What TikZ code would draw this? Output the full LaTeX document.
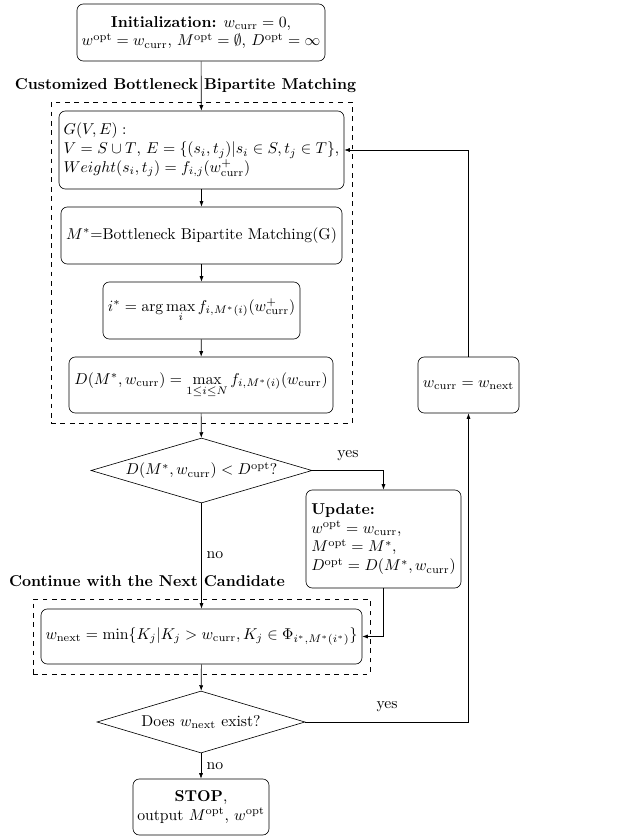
\documentclass[tikz,border=0pt]{standalone}
\usepackage{amsmath,amssymb}
\usetikzlibrary{shapes.geometric,arrows.meta}
\begin{document}
\begin{tikzpicture}[x=0.637pt,y=-0.637pt,
  sz/.style 2 args={minimum width=#1*0.637pt,minimum height=#2*0.637pt},
  box/.style={draw,rounded corners=4pt,inner sep=1.5pt,align=center},
  lbox/.style={draw,rounded corners=4pt,inner sep=1.5pt,align=left},
  dia/.style={draw,diamond,inner sep=0pt,align=center},
  frame/.style={draw,dashed,inner sep=0pt},
  ttl/.style={font=\bfseries,inner sep=0pt},
  lbl/.style={inner sep=0pt},
  arr/.style={-{Latex[length=3.5pt,width=2.6pt]}}
]
\useasboundingbox (0,0) rectangle (628,836);

% dashed frames and titles
\node[frame,sz={301}{321}] (frame1) at (201.5,262.5) {};
\node[frame,sz={337}{75}] (frame2) at (201.5,636.5) {};
\node[ttl] (title1) at (185.5,86) {Customized Bottleneck Bipartite Matching};
\node[ttl] (title2) at (147,581) {Continue with the Next Candidate};

% boxes
\node[box,sz={248}{57}] (init) at (201,32.5)
  {\textbf{Initialization:} $w_{\mathrm{curr}}=0$,\\
   $w^{\mathrm{opt}}=w_{\mathrm{curr}}$, $M^{\mathrm{opt}}=\emptyset$, $D^{\mathrm{opt}}=\infty$};
\node[lbox,sz={285}{78}] (G) at (201.5,150)
  {$G(V,E):$\\
   $V=S\cup T$, $E=\{(s_i,t_j)|s_i\in S,t_j\in T\}$,\\
   $Weight(s_i,t_j)=f_{i,j}(w^{+}_{\mathrm{curr}})$};
\node[box,sz={281}{57}] (M) at (201.5,235.5)
  {$M^{*}$=Bottleneck Bipartite Matching(G)};
\node[box,sz={197}{57}] (istar) at (201.5,310.5)
  {$i^{*}=\arg\max\limits_{i} f_{i,M^{*}(i)}(w^{+}_{\mathrm{curr}})$};
\node[box,sz={264}{56}] (D) at (201,385)
  {$D(M^{*},w_{\mathrm{curr}})=\max\limits_{1\le i\le N} f_{i,M^{*}(i)}(w_{\mathrm{curr}})$};
\node[dia,shape aspect=3.4,sz={221}{65}] (dia1) at (201.5,470.5)
  {$D(M^{*},w_{\mathrm{curr}})<D^{\mathrm{opt}}$?};
\node[lbox,sz={155}{98}] (upd) at (383.5,539)
  {\textbf{Update:}\\
   $w^{\mathrm{opt}}=w_{\mathrm{curr}}$,\\
   $M^{\mathrm{opt}}=M^{*}$,\\
   $D^{\mathrm{opt}}=D(M^{*},w_{\mathrm{curr}})$};
\node[box,sz={321}{55}] (wnext) at (201.5,636.5)
  {$w_{\mathrm{next}}=\min\{K_j|K_j>w_{\mathrm{curr}},K_j\in\Phi_{i^{*},M^{*}(i^{*})}\}$};
\node[dia,shape aspect=3.35,sz={208}{62}] (dia2) at (201,722)
  {Does $w_{\mathrm{next}}$ exist?};
\node[box,sz={136}{56}] (stop) at (201,807)
  {\textbf{STOP},\\ output $M^{\mathrm{opt}}$, $w^{\mathrm{opt}}$};
\node[box,sz={101}{56}] (wcurr) at (468.5,385)
  {$w_{\mathrm{curr}}=w_{\mathrm{next}}$};

% connectors
\draw[arr] (init) -- (G);
\draw[arr] (G) -- (M);
\draw[arr] (M) -- (istar);
\draw[arr] (istar) -- (D);
\draw[arr] (D) -- (dia1);
\draw[arr] (dia1.east) -| (upd.north);
\draw[arr] (dia1.south) -- (wnext.north);
\draw[arr] (upd.south) |- (wnext.east);
\draw[arr] (wnext) -- (dia2);
\draw[arr] (dia2.east) -| (wcurr.south);
\draw[arr] (wcurr.north) |- (G.east);
\draw[arr] (dia2.south) -- (stop.north);

% labels
\node[lbl] (yes1) at (348,456) {yes};
\node[lbl] (yes2) at (387,707) {yes};
\node[lbl] (no1) at (215,555) {no};
\node[lbl] (no2) at (215,766) {no};
\end{tikzpicture}
\end{document}
